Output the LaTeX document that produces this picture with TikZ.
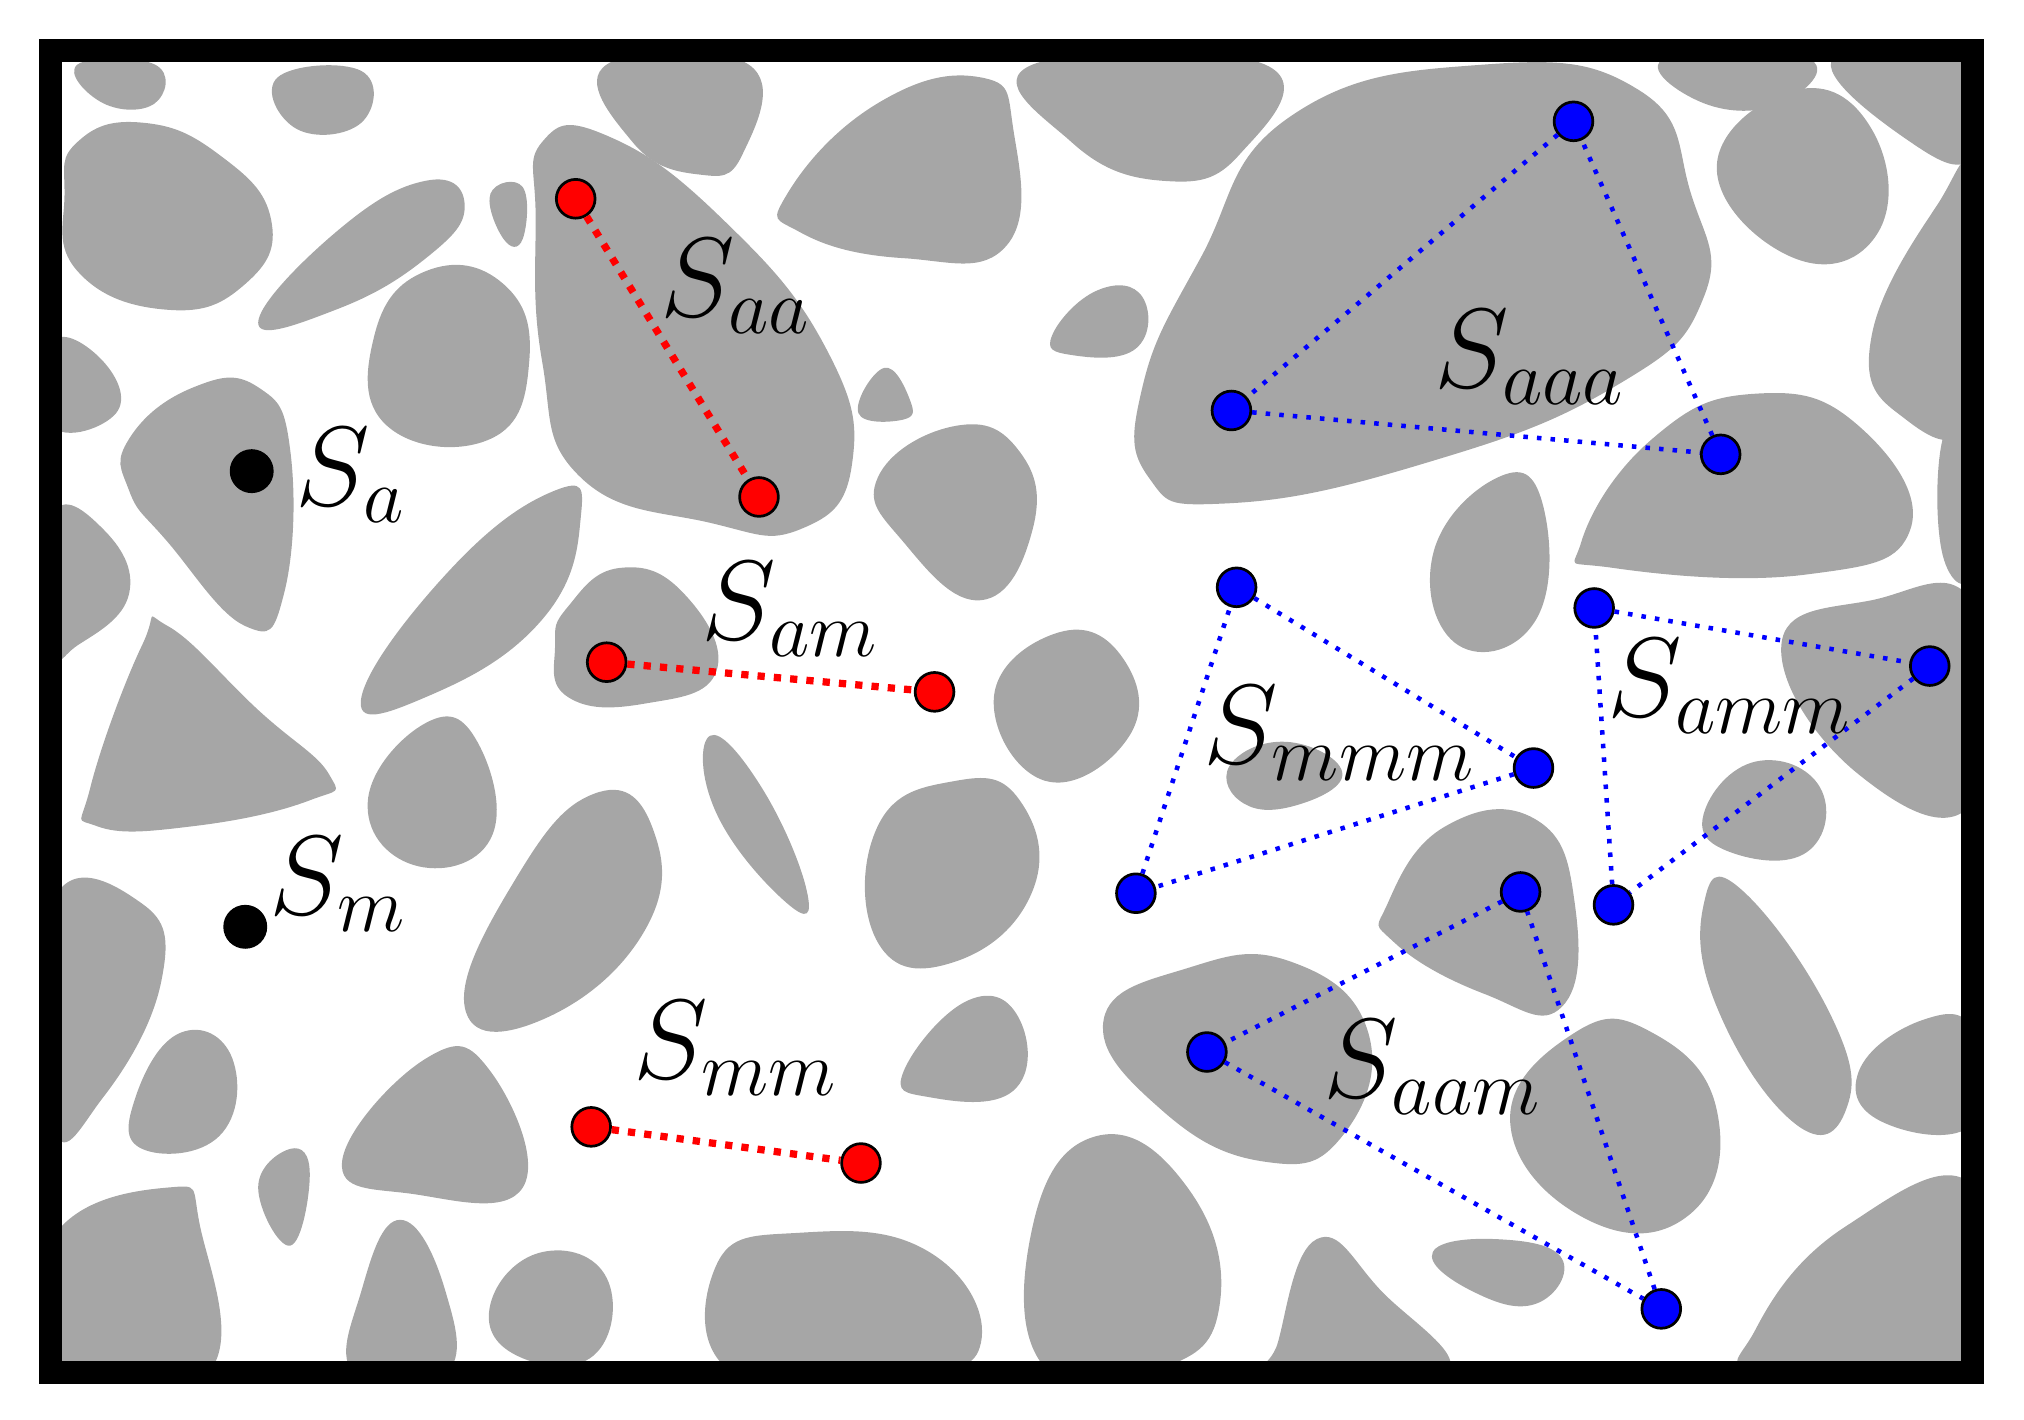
\documentclass[tikz,border=0pt]{standalone}
\begin{document}
\begin{tikzpicture}[x=0.01cm,y=-0.01cm,
  blob/.style={fill=blobgray,draw=none},
  rdot/.style={circle,fill=red,draw=black,line width=0.6pt,minimum size=0.3cm,inner sep=0pt},
  bdot/.style={circle,fill=blue,draw=black,line width=0.6pt,minimum size=0.3cm,inner sep=0pt},
  kdot/.style={circle,fill=black,minimum size=0.34cm,inner sep=0pt},
  rline/.style={red,dotted,line width=1.6pt},
  bline/.style={blue,dotted,line width=1pt},
  lab/.style={font=\fontsize{24}{28}\selectfont,inner sep=0pt}]
\definecolor{blobgray}{HTML}{A6A6A6}
\def\B#1{\fill[blob] plot[smooth cycle,tension=0.8] coordinates {#1};}
\useasboundingbox (0,0) rectangle (1568,1100);
\begin{scope}
\clip (39,39) rectangle (1528,1063);
\B{(420,110) (470,105) (560,170) (640,270) (660,360) (620,410) (550,405) (450,370) (420,280) (415,170)}
\B{(1000,90) (1150,50) (1270,70) (1310,150) (1320,230) (1250,300) (1100,360) (950,390) (890,370) (885,300) (930,200)}
\B{(100,340) (150,300) (200,300) (225,350) (220,460) (190,485) (130,420) (100,380)}
\B{(70,610) (110,500) (130,485) (200,550) (255,600) (240,620) (150,640) (75,640)}
\B{(60,110) (110,95) (170,120) (210,170) (190,220) (130,240) (60,210) (50,150)}
\B{(60,50) (120,50) (120,80) (80,80)}
\B{(215,60) (280,55) (280,95) (230,100)}
\B{(200,250) (260,180) (330,140) (360,160) (330,200) (260,240)}
\B{(290,260) (330,210) (390,220) (410,280) (380,340) (300,330)}
\B{(380,150) (405,145) (405,185) (390,185)}
\B{(470,50) (580,50) (575,120) (540,135) (490,110)}
\B{(610,150) (680,80) (760,60) (785,100) (780,190) (700,200) (620,180)}
\B{(800,50) (980,50) (960,120) (900,140) (830,110)}
\B{(815,260) (850,225) (885,230) (880,270) (830,275)}
\B{(665,320) (685,285) (705,310) (700,325)}
\B{(680,370) (740,330) (790,350) (800,410) (760,465) (700,420)}
\B{(40,265) (80,280) (90,320) (40,330)}
\B{(40,400) (80,410) (100,460) (60,500) (40,500)}
\B{(280,540) (350,440) (430,380) (450,400) (420,480) (330,540)}
\B{(440,470) (480,440) (530,460) (555,520) (500,545) (440,540) (430,500)}
\B{(285,620) (330,560) (370,575) (380,650) (320,670)}
\B{(550,570) (590,610) (625,690) (610,700) (555,630)}
\B{(770,540) (820,490) (870,510) (875,570) (810,605)}
\B{(680,640) (740,605) (790,620) (800,690) (740,745) (680,730)}
\B{(360,780) (400,680) (460,615) (505,640) (500,720) (420,790)}
\B{(1225,420) (1280,340) (1360,305) (1440,330) (1480,410) (1400,445) (1250,440)}
\B{(1330,130) (1390,70) (1450,100) (1455,180) (1390,200)}
\B{(1110,430) (1160,370) (1195,390) (1190,480) (1130,500)}
\B{(1290,45) (1400,45) (1380,80) (1320,80)}
\B{(1420,45) (1530,45) (1530,120) (1480,110)}
\B{(1450,260) (1500,160) (1530,140) (1530,320) (1470,320)}
\B{(1505,340) (1530,330) (1530,440) (1505,430)}
\B{(1380,500) (1450,465) (1530,470) (1530,620) (1440,600)}
\B{(1320,630) (1360,590) (1410,610) (1400,660) (1340,660)}
\B{(955,590) (1000,575) (1040,600) (1000,625) (960,620)}
\B{(1075,700) (1120,640) (1190,635) (1220,700) (1210,780) (1150,770) (1080,730)}
\B{(855,790) (920,750) (1000,745) (1060,800) (1040,880) (980,900) (900,860)}
\B{(1170,870) (1220,800) (1280,800) (1330,860) (1310,940) (1230,945)}
\B{(1320,700) (1350,690) (1420,790) (1430,860) (1390,870) (1330,780)}
\B{(1440,830) (1490,790) (1530,800) (1530,870) (1460,870)}
\B{(1360,1030) (1430,950) (1530,920) (1530,1065) (1370,1065)}
\B{(1110,970) (1160,960) (1210,975) (1190,1010) (1140,1000)}
\B{(990,1040) (1020,960) (1070,1000) (1120,1065) (990,1065)}
\B{(800,950) (850,880) (920,920) (945,1010) (900,1060) (810,1060)}
\B{(555,980) (620,955) (720,970) (760,1040) (700,1065) (570,1065)}
\B{(380,1010) (420,970) (470,990) (460,1050) (400,1050)}
\B{(280,1000) (310,945) (345,1000) (345,1065) (275,1065)}
\B{(40,960) (130,920) (155,950) (160,1065) (40,1065)}
\B{(200,920) (225,890) (240,910) (225,965)}
\B{(105,850) (140,800) (180,820) (170,880) (110,890)}
\B{(265,900) (330,820) (380,830) (405,920) (320,925)}
\B{(40,700) (110,700) (125,760) (80,850) (40,870)}
\B{(700,830) (750,775) (790,790) (785,845) (720,850)}
\end{scope}
\draw[line width=0.18cm] (39,39) rectangle (1528,1063);
\node[kdot] (a) at (195,365) {};
\node[kdot] (m) at (190,718) {};
\node[lab] at (272,368) {$S_a$};
\node[lab] at (262,685) {$S_m$};
\node[rdot] (r1) at (446,154) {}; \node[rdot] (r2) at (588,385) {};
\node[rdot] (r3) at (470,513) {}; \node[rdot] (r4) at (724,536) {};
\node[rdot] (r5) at (458,873) {}; \node[rdot] (r6) at (667,901) {};
\draw[rline] (r1) -- (r2); \draw[rline] (r3) -- (r4); \draw[rline] (r5) -- (r6);
\node[lab] at (570,222) {$S_{aa}$};
\node[lab] at (612,472) {$S_{am}$};
\node[lab] at (570,812) {$S_{mm}$};
\node[bdot] (b1) at (1219,94) {}; \node[bdot] (b2) at (954,318) {}; \node[bdot] (b3) at (1333,352) {};
\node[bdot] (c1) at (958,455) {}; \node[bdot] (c2) at (1188,595) {}; \node[bdot] (c3) at (880,692) {};
\node[bdot] (d1) at (1235,471) {}; \node[bdot] (d2) at (1495,516) {}; \node[bdot] (d3) at (1250,701) {};
\node[bdot] (e1) at (1178,691) {}; \node[bdot] (e2) at (935,815) {}; \node[bdot] (e3) at (1287,1014) {};
\draw[bline] (b1) -- (b2) -- (b3) -- (b1);
\draw[bline] (c1) -- (c2) -- (c3) -- (c1);
\draw[bline] (d1) -- (d2) -- (d3) -- (d1);
\draw[bline] (e1) -- (e2) -- (e3) -- (e1);
\node[lab] at (1185,277) {$S_{aaa}$};
\node[lab] at (1038,568) {$S_{mmm}$};
\node[lab] at (1340,532) {$S_{amm}$};
\node[lab] at (1110,827) {$S_{aam}$};
\end{tikzpicture}
\end{document}
